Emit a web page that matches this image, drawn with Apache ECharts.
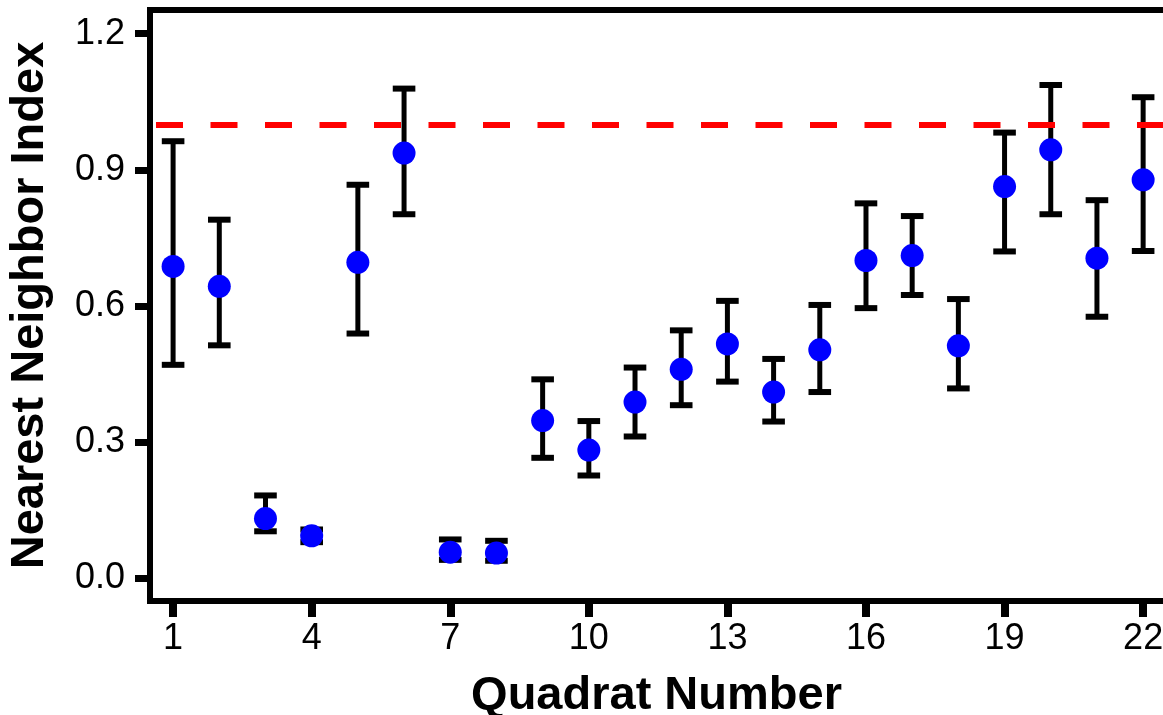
<!DOCTYPE html>
<html>
<head>
<meta charset="utf-8">
<script src="https://cdn.jsdelivr.net/npm/echarts@6/dist/echarts.min.js"></script>
<style>
  html, body { margin: 0; padding: 0; background: #fff; }
  #chart { width: 1163px; height: 715px; }
</style>
</head>
<body>
<div id="chart"></div>
<script>
// ---- data ----
const quadrats = [1, 2, 3, 4, 5, 6, 7, 8, 9, 10, 11, 12, 13, 14, 15, 16, 17, 18, 19, 20, 21, 22];
const nni   = [0.687, 0.643, 0.131, 0.093, 0.696, 0.937, 0.057, 0.055, 0.347, 0.282, 0.388, 0.460, 0.516, 0.410, 0.503, 0.700, 0.711, 0.512, 0.863, 0.944, 0.705, 0.878];
const lower = [0.470, 0.513, 0.103, 0.079, 0.539, 0.802, 0.040, 0.038, 0.265, 0.226, 0.312, 0.381, 0.433, 0.345, 0.410, 0.595, 0.624, 0.418, 0.720, 0.802, 0.576, 0.721];
const upper = [0.963, 0.790, 0.182, 0.107, 0.867, 1.079, 0.085, 0.082, 0.438, 0.346, 0.464, 0.546, 0.611, 0.483, 0.602, 0.826, 0.798, 0.615, 0.982, 1.087, 0.833, 1.060];
const xTicks = [1, 4, 7, 10, 13, 16, 19, 22];
const yTicks = [0, 0.3, 0.6, 0.9, 1.2];
const referenceValue = 1.0;
const xTitle = 'Quadrat Number';
const yTitle = 'Nearest Neighbor Index';

// ---- build ----
const FONT = '"Liberation Sans", Arial, Helvetica, sans-serif';
const pointData = quadrats.map((q, i) => [q, nni[i]]);
const errData = quadrats.map((q, i) => [q, lower[i], upper[i]]);
const X_MIN = 0.5, X_MAX = 22.43;

const chart = echarts.init(document.getElementById('chart'), null, { renderer: 'canvas' });

const axisLine = { show: true, onZero: false, lineStyle: { color: '#000', width: 6, cap: 'square' } };

chart.setOption({
  animation: false,
  backgroundColor: '#fff',
  grid: { left: 150, right: 0, top: 10, bottom: 114, containLabel: false, outerBoundsMode: 'none' },
  xAxis: [
    {
      type: 'value', position: 'bottom', min: X_MIN, max: X_MAX,
      axisLine: axisLine,
      axisTick: { show: true, length: 16, customValues: xTicks, lineStyle: { color: '#000', width: 8 } },
      axisLabel: { show: true, customValues: xTicks, margin: 20, color: '#000', fontSize: 36, fontFamily: FONT,
                   hideOverlap: false },
      splitLine: { show: false },
      name: xTitle, nameLocation: 'middle', nameGap: 72, nameMoveOverlap: false,
      nameTextStyle: { color: '#000', fontSize: 47, fontWeight: 'bold', fontFamily: FONT }
    },
    {
      type: 'value', position: 'top', min: X_MIN, max: X_MAX,
      axisLine: axisLine, axisTick: { show: false }, axisLabel: { show: false }, splitLine: { show: false }
    }
  ],
  yAxis: {
    type: 'value', min: -0.0507, max: 1.2523,
    axisLine: axisLine,
    axisTick: { show: true, length: 15, customValues: yTicks, lineStyle: { color: '#000', width: 7 } },
    axisLabel: { show: true, customValues: yTicks, margin: 25, color: '#000', fontSize: 36, fontFamily: FONT,
                 formatter: v => Number(v).toFixed(1) },
    splitLine: { show: false },
    name: yTitle, nameLocation: 'middle', nameGap: 96, nameRotate: 90, nameMoveOverlap: false,
    nameTextStyle: { color: '#000', fontSize: 47, fontWeight: 'bold', fontFamily: FONT }
  },
  series: [
    {
      type: 'custom', z: 2, xAxisIndex: 0, yAxisIndex: 0,
      data: errData,
      encode: { x: 0, y: [1, 2] },
      renderItem: function (params, api) {
        const x = api.value(0);
        const pLo = api.coord([x, api.value(1)]);
        const pHi = api.coord([x, api.value(2)]);
        const hw = 11.3;
        return {
          type: 'group',
          children: [
            { type: 'line', shape: { x1: pHi[0], y1: pHi[1], x2: pLo[0], y2: pLo[1] }, style: { stroke: '#000', lineWidth: 5 } },
            { type: 'line', shape: { x1: pHi[0] - hw, y1: pHi[1], x2: pHi[0] + hw, y2: pHi[1] }, style: { stroke: '#000', lineWidth: 6 } },
            { type: 'line', shape: { x1: pLo[0] - hw, y1: pLo[1], x2: pLo[0] + hw, y2: pLo[1] }, style: { stroke: '#000', lineWidth: 6 } }
          ]
        };
      }
    },
    {
      type: 'scatter', z: 3, xAxisIndex: 0, yAxisIndex: 0,
      data: pointData, symbol: 'circle', symbolSize: 23,
      itemStyle: { color: '#0000FF', opacity: 1 }
    },
    {
      type: 'line', z: 4, xAxisIndex: 0, yAxisIndex: 0,
      data: [], symbol: 'none',
      markLine: {
        silent: true, symbol: 'none', label: { show: false },
        lineStyle: { color: '#FF0000', width: 6, type: [27, 27.5], dashOffset: -6 },
        data: [{ yAxis: referenceValue }]
      }
    }
  ]
});
</script>
</body>
</html>
